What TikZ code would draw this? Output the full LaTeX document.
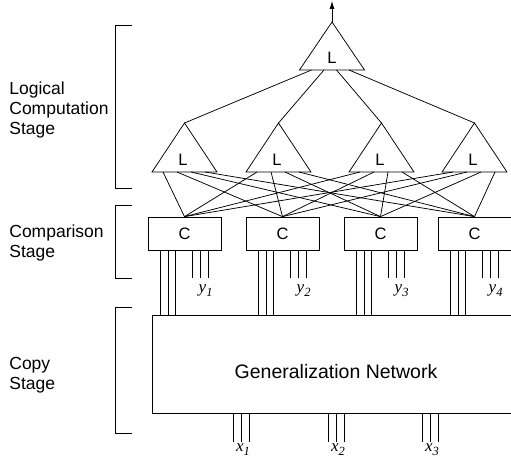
\documentclass[tikz,border=0pt]{standalone}
\usepackage{fontspec}
\setmainfont{Liberation Sans}
\newfontfamily\tms{Liberation Serif}
\usetikzlibrary{arrows.meta,calc}
\newcommand{\varsub}[2]{{\tms\itshape\fontsize{17}{17}\selectfont #1\raisebox{-4pt}{\fontsize{12.5}{12.5}\selectfont #2}}}
\begin{document}
\begin{tikzpicture}[x=1pt,y=-1pt,line width=0.75pt,
  stagelbl/.style={font=\fontsize{17.5}{20}\selectfont, align=left, anchor=west, inner sep=0pt},
  tritext/.style={font=\fontsize{16.5}{16.5}\selectfont, inner sep=0pt},
  cbox/.style={draw, minimum width=73pt, minimum height=33pt, inner sep=0pt, font=\fontsize{16.5}{16.5}\selectfont},
  genbox/.style={draw, minimum width=360pt, minimum height=98pt, inner sep=0pt, anchor=north west},
  bracketline/.style={line width=0.75pt}]
\useasboundingbox (0,0) rectangle (511,465);

% top triangle
\coordinate (Ta) at (332,22);
\draw (Ta) -- (364.5,70) -- (299.5,70) -- cycle;
\node[tritext] (Tl) at (332,58) {L};
\foreach \j in {1,2,3,4} {\coordinate (Tb\j) at (299.5+12.5*\j-0.5,70);}
\coordinate (out) at (332,1);
\draw[-{Latex[length=8pt,width=5pt]}] (Ta) -- (out);

% lower triangles
\foreach \l [count=\i] in {152,246,349,442} {
  \coordinate (t\i a) at (\l+32.5,123);
  \draw (t\i a) -- (\l+65,172) -- (\l,172) -- cycle;
  \node[tritext] (t\i l) at (\l+31,160) {L};
  \foreach \j in {1,2,3,4} {\coordinate (t\i b\j) at (\l+11+14*\j-14,172);}
}
\foreach \i in {1,2,3,4} {\draw (Tb\i) -- (t\i a);}

% comparison boxes
\foreach \l [count=\i] in {148,246,344,438} {
  \node[cbox] (c\i) at (\l+36.5,233.5) {C};
}
\foreach \i in {1,2,3,4} {
  \foreach \j in {1,2,3,4} {\draw (t\i b\j) -- (c\j.north);}
}

% generalization network
\node[genbox] (gen) at (152,315) {};
\node[font=\fontsize{19.5}{19.5}\selectfont, inner sep=0pt, anchor=base] (gentext) at (336,378) {Generalization Network};

% wires between C boxes and network, y inputs
\foreach \i in {1,2,3,4} {
  \foreach \d in {13,20.5,28} {
    \draw ([xshift=\d pt]c\i.south west) -- ([xshift=\d pt]c\i.south west |- gen.north);
  }
  \foreach \d in {45,53,61} {
    \draw ([xshift=\d pt]c\i.south west) -- ++(0,28);
  }
  \node[inner sep=0pt] (y\i) at ($(c\i.south west)+(58,40)$) {\varsub{y}{\i}};
}

% x inputs
\foreach \xc [count=\i] in {241,336,430} {
  \foreach \d in {-8,0,8} {
    \coordinate (x\i w\d) at (\xc+\d,442);
    \draw (\xc+\d,413) -- (x\i w\d);
  }
  \node[inner sep=0pt] (x\i) at (\xc+2,450) {\varsub{x}{\i}};
}

% stage brackets
\draw[bracketline] (132,25) -- (115,25) -- (115,188) -- (132,188);
\draw[bracketline] (132,205) -- (115,205) -- (115,278) -- (132,278);
\draw[bracketline] (132,307) -- (115,307) -- (115,433) -- (132,433);

\node[stagelbl] (s1) at (9,110) {Logical\\Computation\\Stage};
\node[stagelbl] (s2) at (9,243) {Comparison\\Stage};
\node[stagelbl] (s3) at (9,375) {Copy\\Stage};
\end{tikzpicture}
\end{document}
